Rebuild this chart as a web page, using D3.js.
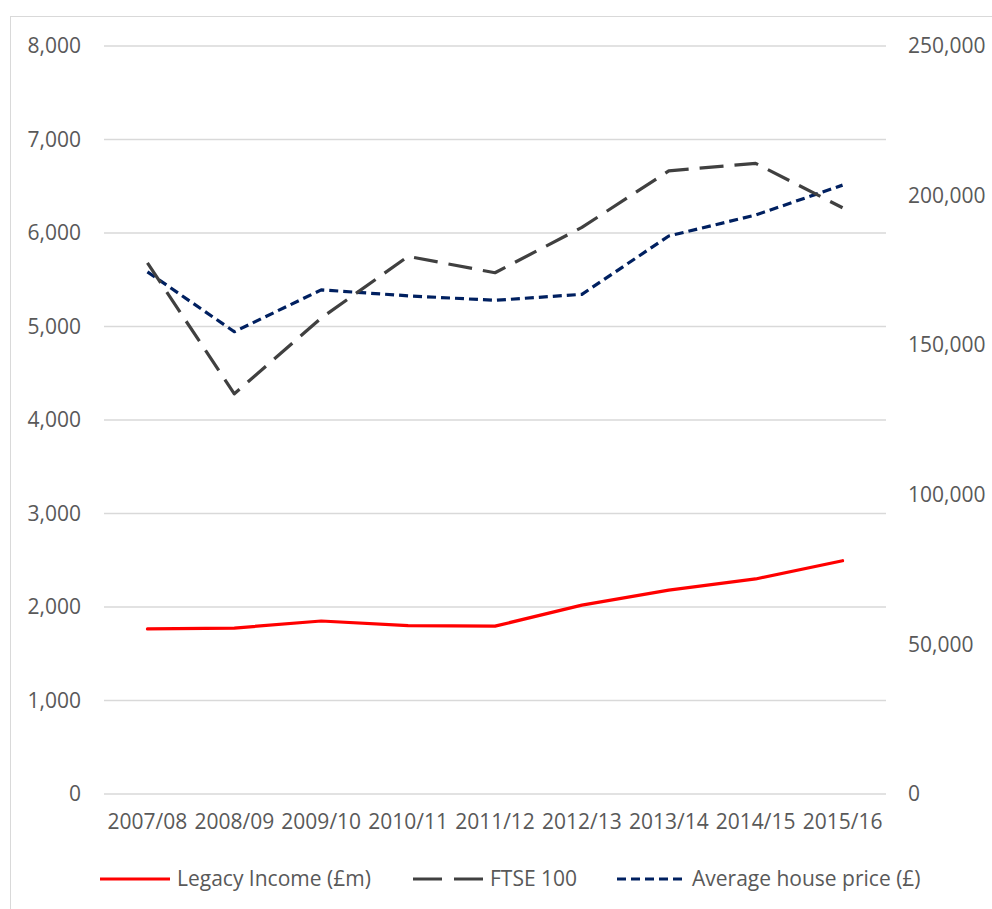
<!DOCTYPE html>
<html>
<head>
<meta charset="utf-8">
<script src="https://cdn.jsdelivr.net/npm/d3@7"></script>
<style>
  body { margin: 0; background: #fff; }
  text { font-family: 'Open Sans', sans-serif; fill: #595959; }
</style>
</head>
<body>
<svg id="chart"></svg>
<script>
// chart data
const years = ['2007/08', '2008/09', '2009/10', '2010/11', '2011/12', '2012/13', '2013/14', '2014/15', '2015/16'];
const legacyIncome = [1765, 1775, 1850, 1800, 1795, 2020, 2180, 2300, 2495];
const ftse100 = [5680, 4280, 5090, 5750, 5575, 6060, 6665, 6745, 6270];
const housePrice = [174500, 154500, 168500, 166500, 165000, 167000, 186500, 193500, 203500];
const leftTicks = [0, 1000, 2000, 3000, 4000, 5000, 6000, 7000, 8000];
const rightTicks = [0, 50000, 100000, 150000, 200000, 250000];

const W = 992, H = 909;
const margin = { top: 46, right: 106, bottom: 115, left: 104 };
const width = W - margin.left - margin.right;
const height = H - margin.top - margin.bottom;

const svg = d3.select('#chart').attr('width', W).attr('height', H);

// outer frame
svg.append('rect')
  .attr('x', 10.5).attr('y', 16.5)
  .attr('width', 990).attr('height', 900)
  .style('fill', 'none').style('stroke', '#d9d9d9').style('stroke-width', 1);

const g = svg.append('g').attr('transform', `translate(${margin.left},${margin.top})`);

const x = d3.scaleBand().domain(years).range([0, width]);
const y1 = d3.scaleLinear().domain([0, 8000]).range([height, 0]);
const y2 = d3.scaleLinear().domain([0, 250000]).range([height, 0]);
const fmt = d3.format(',');

// gridlines
g.selectAll('.grid')
  .data(leftTicks)
  .enter().append('line')
  .attr('class', 'grid')
  .attr('x1', 0).attr('x2', width)
  .attr('y1', d => y1(d)).attr('y2', d => y1(d))
  .style('stroke', '#d9d9d9').style('stroke-width', 1.5);

// axes (text only, Excel style)
const yAxisLeft = d3.axisLeft(y1).tickValues(leftTicks).tickFormat(fmt).tickSize(0).tickPadding(23);
const yAxisRight = d3.axisRight(y2).tickValues(rightTicks).tickFormat(fmt).tickSize(0).tickPadding(22);
const xAxis = d3.axisBottom(x).tickSize(0).tickPadding(20);

[g.append('g').call(yAxisLeft),
 g.append('g').attr('transform', `translate(${width},0)`).call(yAxisRight),
 g.append('g').attr('transform', `translate(0,${height})`).call(xAxis)
].forEach(ax => {
  ax.select('.domain').remove();
  ax.selectAll('text').style('font-size', '21px').style('fill', '#595959')
    .style('font-family', "'Open Sans', sans-serif");
});

// series
const series = [
  { name: 'Legacy Income (£m)', values: legacyIncome, scale: y1, color: '#ff0000', dash: null },
  { name: 'FTSE 100', values: ftse100, scale: y1, color: '#404040', dash: '24,11' },
  { name: 'Average house price (£)', values: housePrice, scale: y2, color: '#002060', dash: '9,5' }
];

series.slice().reverse().forEach(s => {
  const line = d3.line()
    .x((d, i) => x(years[i]) + x.bandwidth() / 2)
    .y(d => s.scale(d));
  g.append('path')
    .datum(s.values)
    .attr('d', line)
    .style('fill', 'none')
    .style('stroke', s.color)
    .style('stroke-width', 3.2)
    .style('stroke-linejoin', 'round')
    .style('stroke-linecap', s.dash ? 'butt' : 'round')
    .style('stroke-dasharray', s.dash);
});

// legend
const legendX = [100, 413, 617];
const legend = svg.selectAll('.legend')
  .data(series)
  .enter().append('g')
  .attr('class', 'legend')
  .attr('transform', (d, i) => `translate(${legendX[i]}, 879)`);

legend.append('line')
  .attr('x1', 0).attr('x2', 70)
  .attr('y1', 0).attr('y2', 0)
  .style('stroke', d => d.color)
  .style('stroke-width', 3.2)
  .style('stroke-dasharray', (d, i) => i === 1 ? '29,12' : d.dash);

legend.append('text')
  .attr('x', (d, i) => i === 2 ? 75 : 77)
  .attr('y', 0)
  .attr('dy', '.35em')
  .style('font-size', '21px')
  .text(d => d.name);
</script>
</body>
</html>
